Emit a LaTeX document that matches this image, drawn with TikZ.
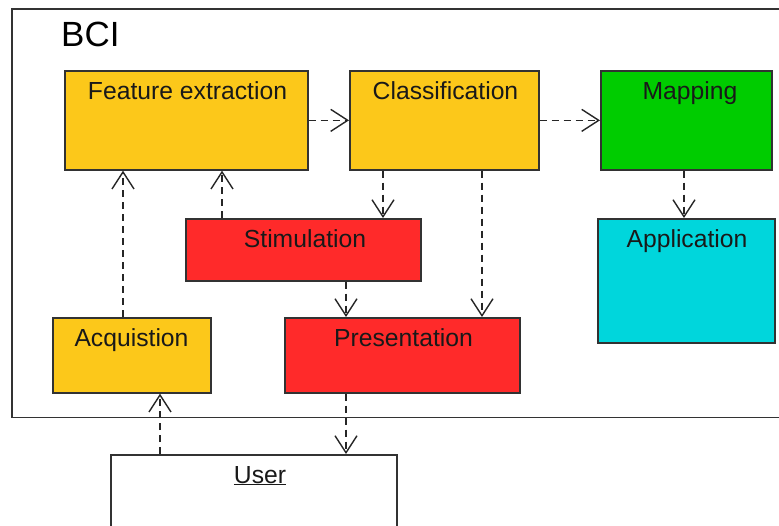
\documentclass[tikz,border=0pt]{standalone}
\usepackage{fontspec}
\setmainfont{Liberation Sans}
\usetikzlibrary{arrows.meta}
\definecolor{yel}{RGB}{252,200,26}
\definecolor{grn}{RGB}{0,204,0}
\definecolor{rd}{RGB}{255,42,42}
\definecolor{cyn}{RGB}{0,214,220}
\definecolor{edge}{RGB}{50,50,50}
\tikzset{
  box/.style={draw=edge, line width=1.7pt, rectangle, inner sep=0pt, anchor=north west},
  lbl/.style={anchor=base, inner sep=0pt, font=\fontsize{24.7}{28}\selectfont, text=black!90},
  arr/.style={draw=black!85, line width=1.5pt, dash pattern=on 7pt off 5pt, -{Straight Barb[length=17pt,width=22pt,line width=1.4pt]}}
}
\begin{document}
\begin{tikzpicture}[x=1pt,y=-1pt]
\clip (0,0) rectangle (779,526);
\fill[white] (0,0) rectangle (779,526);
% frame
\node[draw=black!80, line width=1.5pt, rectangle, inner sep=0pt, anchor=north west, minimum width=800pt, minimum height=408pt] (bci) at (11,8.5) {};
\node[anchor=base west, inner sep=0pt, font=\fontsize{35}{40}\selectfont] (bcit) at (61,47) {BCI};
% boxes
\node[box, fill=yel, minimum width=243pt, minimum height=99pt] (fe) at (64,70) {};
\node[box, fill=yel, minimum width=189pt, minimum height=99pt] (cls) at (349,70) {};
\node[box, fill=grn, minimum width=171pt, minimum height=99pt] (map) at (600,70) {};
\node[box, fill=rd, minimum width=235pt, minimum height=62pt] (stim) at (185,218) {};
\node[box, fill=cyn, minimum width=177pt, minimum height=124pt] (app) at (597,218) {};
\node[box, fill=yel, minimum width=158pt, minimum height=75pt] (acq) at (52,317) {};
\node[box, fill=rd, minimum width=235pt, minimum height=75pt] (pres) at (284,317) {};
\node[box, fill=white, minimum width=286pt, minimum height=120pt] (user) at (110,454) {};
% labels
\node[lbl] (fet) at (187.5,100) {Feature extraction};
\node[lbl] (clst) at (445.5,100) {Classification};
\node[lbl] (mapt) at (690,100) {Mapping};
\node[lbl] (stimt) at (305,248) {Stimulation};
\node[lbl] (appt) at (687,248) {Application};
\node[lbl] (acqt) at (131.5,347) {Acquistion};
\node[lbl] (prest) at (403.5,347) {Presentation};
\node[lbl] (usert) at (260,483) {\underline{User}};
% connectors
\draw[arr] (fe.east) -- (cls.west);
\draw[arr] (cls.east) -- (map.west);
\draw[arr] (383,0 |- cls.south) -- (383,0 |- stim.north);
\draw[arr] (482,0 |- cls.south) -- (482,0 |- pres.north);
\draw[arr] (222,0 |- stim.north) -- (222,0 |- fe.south);
\draw[arr] (123,0 |- acq.north) -- (123,0 |- fe.south);
\draw[arr] (346,0 |- stim.south) -- (346,0 |- pres.north);
\draw[arr] (684,0 |- map.south) -- (684,0 |- app.north);
\draw[arr] (160,0 |- user.north) -- (160,0 |- acq.south);
\draw[arr] (346,0 |- pres.south) -- (346,0 |- user.north);
\end{tikzpicture}
\end{document}
